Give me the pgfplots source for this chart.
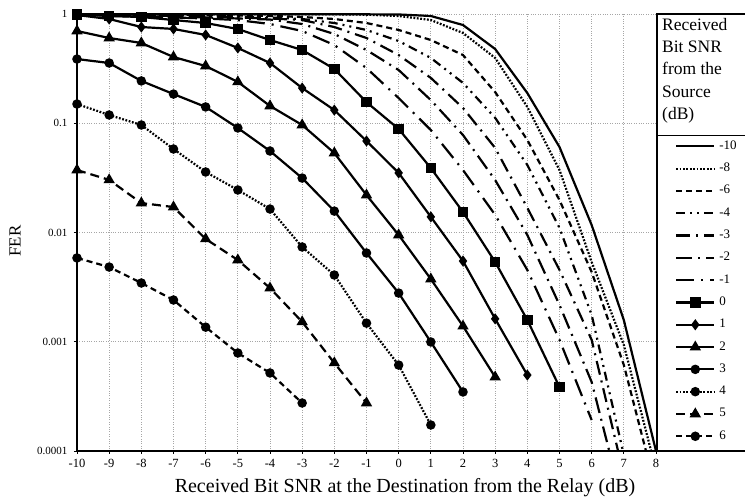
\documentclass[border=0pt]{standalone}
\usepackage{fontspec}
\setmainfont{Liberation Serif}
\usepackage{pgfplots}
\pgfplotsset{compat=1.18}

% FER curves; one list per received source SNR (dB)
% columns: x = received bit SNR at destination from relay (dB), y = FER
\newcommand{\SrcMten}{(-10,0.995)(-9,0.995)(-8,0.995)(-7,0.995)(-6,0.995)(-5,0.995)(-4,0.995)(-3,0.995)(-2,0.995)(-1,0.993)(0,0.99)(1,0.959)(2,0.793)(3,0.478)(4,0.189)(5,0.0606)(6,0.0117)(7,0.00158)(8,0.0001)}
\newcommand{\SrcMeight}{(-10,0.995)(-9,0.995)(-8,0.995)(-7,0.995)(-6,0.995)(-5,0.995)(-4,0.995)(-3,0.994)(-2,0.993)(-1,0.985)(0,0.959)(1,0.881)(2,0.670)(3,0.396)(4,0.141)(5,0.0373)(6,0.00537)(7,0.000934)(8,0.000067)}
\newcommand{\SrcMsix}{(-10,0.995)(-9,0.993)(-8,0.99)(-7,0.985)(-6,0.98)(-5,0.97)(-4,0.96)(-3,0.939)(-2,0.900)(-1,0.827)(0,0.714)(1,0.578)(2,0.421)(3,0.193)(4,0.0703)(5,0.0198)(6,0.00435)(7,0.000613)(8,0.000044)}
\newcommand{\SrcMfour}{(-10,0.99)(-9,0.985)(-8,0.98)(-7,0.97)(-6,0.96)(-5,0.95)(-4,0.93)(-3,0.900)(-2,0.827)(-1,0.714)(0,0.566)(1,0.396)(2,0.234)(3,0.112)(4,0.0415)(5,0.0110)(6,0.00176)(7,0.000092)}
\newcommand{\SrcMthree}{(-10,0.985)(-9,0.98)(-8,0.97)(-7,0.96)(-6,0.95)(-5,0.93)(-4,0.91)(-3,0.881)(-2,0.760)(-1,0.603)(0,0.421)(1,0.260)(2,0.138)(3,0.0594)(4,0.0168)(5,0.00454)(6,0.00104)(7,0.00006)}
\newcommand{\SrcMtwo}{(-10,0.98)(-9,0.97)(-8,0.96)(-7,0.95)(-6,0.93)(-5,0.91)(-4,0.89)(-3,0.810)(-2,0.656)(-1,0.468)(0,0.307)(1,0.163)(2,0.0780)(3,0.0302)(4,0.00949)(5,0.00217)(6,0.000428)(7,0.00003)}
\newcommand{\SrcMone}{(-10,0.97)(-9,0.96)(-8,0.95)(-7,0.93)(-6,0.91)(-5,0.88)(-4,0.810)(-3,0.699)(-2,0.520)(-1,0.320)(0,0.170)(1,0.0867)(2,0.0373)(3,0.0145)(4,0.00454)(5,0.00104)(6,0.000192)}
\newcommand{\SrcZero}{(-10,0.99)(-9,0.959)(-8,0.939)(-7,0.881)(-6,0.827)(-5,0.729)(-4,0.578)(-3,0.468)(-2,0.314)(-1,0.156)(0,0.0886)(1,0.0389)(2,0.0154)(3,0.00537)(4,0.00158)(5,0.000385)}
\newcommand{\SrcOne}{(-10,0.979)(-9,0.90)(-8,0.76)(-7,0.73)(-6,0.643)(-5,0.489)(-4,0.356)(-3,0.210)(-2,0.132)(-1,0.0688)(0,0.0351)(1,0.0139)(2,0.00548)(3,0.00162)(4,0.000496)}
\newcommand{\SrcTwo}{(-10,0.699)(-9,0.603)(-8,0.543)(-7,0.404)(-6,0.334)(-5,0.239)(-4,0.144)(-3,0.0964)(-2,0.0534)(-1,0.0220)(0,0.00949)(1,0.00375)(2,0.00139)(3,0.000475)}
\newcommand{\SrcThree}{(-10,0.387)(-9,0.356)(-8,0.244)(-7,0.185)(-6,0.141)(-5,0.0905)(-4,0.0557)(-3,0.0315)(-2,0.0157)(-1,0.00649)(0,0.00279)(1,0.000995)(2,0.000347)}
\newcommand{\SrcFour}{(-10,0.150)(-9,0.119)(-8,0.0964)(-7,0.0581)(-6,0.0358)(-5,0.0245)(-4,0.0164)(-3,0.00737)(-2,0.00408)(-1,0.00148)(0,0.000612)(1,0.000173)}
\newcommand{\SrcFive}{(-10,0.0373)(-9,0.0303)(-8,0.0186)(-7,0.0171)(-6,0.00873)(-5,0.00560)(-4,0.00310)(-3,0.00152)(-2,0.000640)(-1,0.000275)}
\newcommand{\SrcSix}{(-10,0.00585)(-9,0.00483)(-8,0.00345)(-7,0.00241)(-6,0.00136)(-5,0.000789)(-4,0.000518)(-3,0.000275)}

\begin{document}
\begin{tikzpicture}
\begin{axis}[
  at={(0pt,0pt)}, anchor=south west,
  scale only axis, width=579pt, height=437pt,
  ymode=log,
  xmin=-10, xmax=8, ymin=1e-4, ymax=1,
  xtick={-10,...,8},
  xticklabels={-10,-9,-8,-7,-6,-5,-4,-3,-2,-1,0,1,2,3,4,5,6,7,8},
  ytick={1e-4,1e-3,1e-2,1e-1,1},
  yticklabels={0.0001,0.001,0.01,0.1,1},
  yminorticks=false,
  grid=major,
  major grid style={gray!70, dotted, line width=0.7pt},
  axis x line*=bottom, axis y line*=left,
  axis line style={line width=1.8pt},
  tick align=outside, major tick length=3pt,
  tick style={line width=0.8pt, black},
  xticklabel style={font=\fontsize{12.5}{13}\selectfont, yshift=-2pt},
  yticklabel style={font=\fontsize{11}{12}\selectfont, xshift=-3pt},
  xlabel={Received Bit SNR at the Destination from the Relay (dB)},
  xlabel style={font=\fontsize{20}{22}\selectfont, at={(axis description cs:0.5665,-0.083)}, anchor=center},
  ylabel={FER},
  ylabel style={font=\fontsize{17}{18}\selectfont, at={(axis description cs:-0.107,0.48)}, anchor=center},
  every axis plot/.append style={line width=2.2pt, black},
  mark options={solid},
  legend image code/.code={\draw[mark repeat=2,mark phase=2,#1] plot coordinates {(0pt,0pt) (19pt,0pt) (38pt,0pt)};},
  legend cell align=left,
  legend style={at={(axis description cs:1.0328,0.709)}, anchor=north west,
    draw=none, fill=none, inner sep=0pt, row sep=12.3pt,
    font=\fontsize{13}{14}\selectfont,
    nodes={inner sep=0pt, text height=8pt, text depth=2pt},
    /tikz/every odd column/.append style={column sep=4pt}},
]
\addplot[solid] coordinates {\SrcMten};
\addlegendentry{-10}
\addplot[dash pattern=on 1.8pt off 1.6pt] coordinates {\SrcMeight};
\addlegendentry{-8}
\addplot[dash pattern=on 6pt off 4pt] coordinates {\SrcMsix};
\addlegendentry{-6}
\addplot[dash pattern=on 9pt off 5pt on 2pt off 5pt on 2pt off 5pt] coordinates {\SrcMfour};
\addlegendentry{-4}
\addplot[dash pattern=on 14pt off 6pt on 2pt off 6pt] coordinates {\SrcMthree};
\addlegendentry{-3}
\addplot[dash pattern=on 16pt off 6pt on 2pt off 6pt] coordinates {\SrcMtwo};
\addlegendentry{-2}
\addplot[dash pattern=on 18pt off 7pt on 2pt off 7pt] coordinates {\SrcMone};
\addlegendentry{-1}
\addplot[solid, mark=square*, mark size=4.2pt] coordinates {\SrcZero};
\addlegendentry{0}
\addplot[solid, mark=diamond*, mark size=3.8pt] coordinates {\SrcOne};
\addlegendentry{1}
\addplot[solid, mark=triangle*, mark size=4.4pt] coordinates {\SrcTwo};
\addlegendentry{2}
\addplot[solid, mark=*, mark size=3.6pt] coordinates {\SrcThree};
\addlegendentry{3}
\addplot[dash pattern=on 1.8pt off 1.6pt, mark=*, mark size=3.6pt] coordinates {\SrcFour};
\addlegendentry{4}
\addplot[dash pattern=on 9pt off 5pt, mark=triangle*, mark size=4.4pt] coordinates {\SrcFive};
\addlegendentry{5}
\addplot[dash pattern=on 6pt off 4pt, mark=*, mark size=3.6pt] coordinates {\SrcSix};
\addlegendentry{6}
\end{axis}
% legend frame and title
\draw[line width=1.3pt] (670pt,437pt) -- (580pt,437pt) -- (580pt,0pt) -- (670pt,0pt);
\draw[line width=0.9pt] (580pt,316pt) -- (670pt,316pt);
\node[anchor=north west, align=left, inner sep=0pt,
  font=\fontsize{17.5}{22.3}\selectfont] at (585pt,433pt)
  {Received\\Bit SNR\\from the\\Source\\(dB)};
\pgfresetboundingbox
\useasboundingbox (-77pt,-50pt) rectangle (668pt,451pt);
\end{tikzpicture}
\end{document}
